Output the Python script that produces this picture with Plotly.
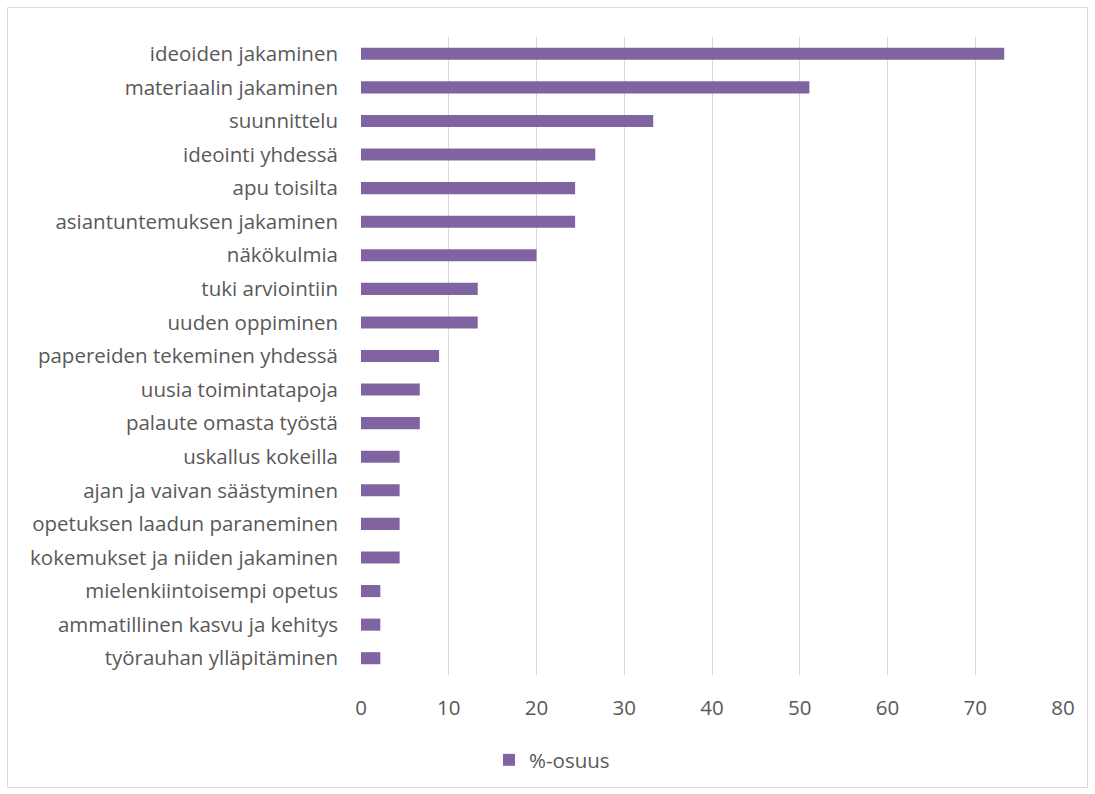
import plotly.graph_objects as go

categories = [
    "ideoiden jakaminen",
    "materiaalin jakaminen",
    "suunnittelu",
    "ideointi yhdessä",
    "apu toisilta",
    "asiantuntemuksen jakaminen",
    "näkökulmia",
    "tuki arviointiin",
    "uuden oppiminen",
    "papereiden tekeminen yhdessä",
    "uusia toimintatapoja",
    "palaute omasta työstä",
    "uskallus kokeilla",
    "ajan ja vaivan säästyminen",
    "opetuksen laadun paraneminen",
    "kokemukset ja niiden jakaminen",
    "mielenkiintoisempi opetus",
    "ammatillinen kasvu ja kehitys",
    "työrauhan ylläpitäminen",
]
values = [73.3, 51.1, 33.3, 26.7, 24.4, 24.4, 20.0, 13.3, 13.3, 8.9,
          6.7, 6.7, 4.4, 4.4, 4.4, 4.4, 2.2, 2.2, 2.2]
series_name = "%-osuus"
x_ticks = [0, 10, 20, 30, 40, 50, 60, 70, 80]

W, H = 1095, 794
L, R, T, B = 361, 1063, 37, 675
FONT = "Open Sans, Segoe UI, sans-serif"
FS = 20.5

fig = go.Figure()
fig.add_trace(go.Bar(
    y=categories, x=values, orientation="h", name=series_name,
    marker=dict(color="#8064A2", line=dict(width=0)), width=0.36,
    showlegend=True,
))

def px_x(p):
    return (p - L) / (R - L)

def px_y(p):
    return (B - p) / (B - T)

fig.update_layout(
    width=W, height=H,
    margin=dict(l=L, r=W - R, t=T, b=H - B),
    paper_bgcolor="white", plot_bgcolor="white",
    font=dict(family=FONT, size=FS, color="#595959"),
    showlegend=True,
    legend=dict(orientation="h", x=px_x(552), xanchor="center", y=px_y(760), yanchor="middle",
                font=dict(family=FONT, size=FS, color="#595959"), itemwidth=30),
    shapes=[dict(type="rect", xref="paper", yref="paper",
                 x0=px_x(7.5), x1=px_x(1087.5), y0=px_y(787.5), y1=px_y(7.5),
                 line=dict(color="#D9D9D9", width=1), fillcolor="rgba(0,0,0,0)", layer="below")],
)
fig.update_xaxes(range=[0, 80], tickvals=x_ticks, showgrid=True, gridcolor="#D9D9D9", gridwidth=1,
                 zeroline=False, showline=False, ticks="", ticklabelstandoff=18,
                 tickfont=dict(family=FONT, size=FS, color="#595959"), fixedrange=True)
fig.update_yaxes(categoryorder="array", categoryarray=categories[::-1], autorange=True,
                 showgrid=False, zeroline=False, showline=False, ticks="",
                 ticklabelstandoff=22, tickfont=dict(family=FONT, size=FS, color="#595959"))

fig.write_html("out.html")
